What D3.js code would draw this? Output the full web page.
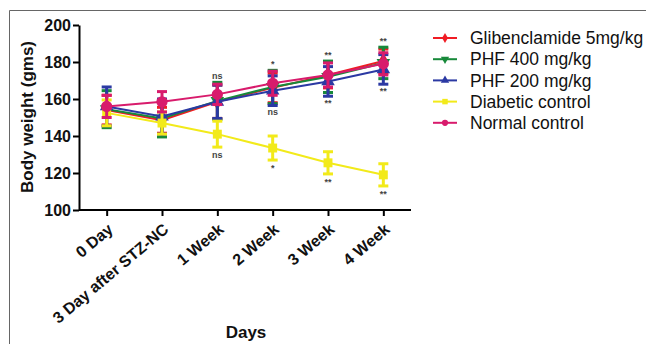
<!DOCTYPE html>
<html>
<head>
<meta charset="utf-8">
<script src="https://cdn.jsdelivr.net/npm/d3@7/dist/d3.min.js"></script>
<style>
  body { margin: 0; background: #fff; }
  text { font-family: "Liberation Sans", Arial, sans-serif; }
</style>
</head>
<body>
<div id="chart"></div>
<script>
// data
const days = ['0 Day', '3 Day after STZ-NC', '1 Week', '2 Week', '3 Week', '4 Week']
const seriesNames = ['Glibenclamide 5mg/kg', 'PHF 400 mg/kg', 'PHF 200 mg/kg', 'Diabetic control', 'Normal control']
const glibMean = [154, 148.5, 158.5, 166, 173, 180.5]
const glibErr = [8, 7, 9, 8, 7, 6.5]
const phf400Mean = [154.5, 149.5, 159, 166.5, 172, 179.5]
const phf400Err = [10, 10, 10, 9, 8.5, 8.5]
const phf200Mean = [156, 150.5, 158.5, 164.5, 169.5, 176]
const phf200Err = [10.5, 9.5, 9, 8, 8, 8]
const diabMean = [152.5, 147, 141, 133.5, 125.5, 119]
const diabErr = [7, 6, 7, 6.5, 6, 6]
const normalMean = [156, 158.5, 162.5, 168.5, 173, 179]
const normalErr = [6, 5.5, 5.5, 6.5, 6.5, 6]
const sigAbove = ['', '', 'ns', '*', '**', '**']
const sigBelow = ['', '', '', 'ns', '**', '**']
const sigDiab = ['', '', 'ns', '*', '**', '**']
const yTicks = [100, 120, 140, 160, 180, 200]

const colors = ['#f01c24', '#17893a', '#2b39a3', '#f2ea1a', '#d81b6c']
const shapes = [d3.symbolDiamond, d3.symbolTriangle, d3.symbolTriangle, d3.symbolSquare, d3.symbolCircle]
const rotations = [0, 180, 0, 0, 0]

const series = [
    { mean: glibMean, err: glibErr },
    { mean: phf400Mean, err: phf400Err },
    { mean: phf200Mean, err: phf200Err },
    { mean: diabMean, err: diabErr },
    { mean: normalMean, err: normalErr },
]

const width = 646, height = 344
const svg = d3.select('#chart').append('svg').attr('width', width).attr('height', height)

// frame
svg.append('path')
    .attr('d', 'M9.5,' + height + 'V10.5H' + width)
    .attr('fill', 'none')
    .attr('stroke', '#666')
    .attr('stroke-width', 1)

const x = d3.scalePoint().domain(days).range([79, 411]).padding(0.5)
const y = d3.scaleLinear().domain([100, 200]).range([210, 25])

// y axis
const yAxis = svg.append('g')
    .attr('transform', 'translate(79,0)')
    .call(d3.axisLeft(y).tickValues(yTicks).tickSize(6).tickSizeOuter(0))
yAxis.selectAll('path, line').attr('stroke', '#000').attr('stroke-width', 2)
yAxis.selectAll('text')
    .attr('font-size', '16px').attr('font-weight', 'bold').attr('fill', '#111')
    .attr('x', -8).attr('dy', '0.36em')

// x axis
const xAxis = svg.append('g')
    .attr('transform', 'translate(0,210)')
    .call(d3.axisBottom(x).tickSize(6).tickSizeOuter(0))
xAxis.select('.domain').attr('d', 'M79,0H411')
xAxis.selectAll('path, line').attr('stroke', '#000').attr('stroke-width', 2)
xAxis.selectAll('text')
    .attr('font-size', '16px').attr('font-weight', 'bold').attr('fill', '#111')
    .attr('y', 0).attr('dy', 0)
    .attr('text-anchor', 'end')
    .attr('transform', 'translate(7,21) rotate(-40)')

// axis titles
svg.append('text')
    .attr('transform', 'translate(33,117) rotate(-90)')
    .attr('text-anchor', 'middle')
    .attr('font-size', '17px').attr('font-weight', 'bold').attr('fill', '#111')
    .text('Body weight (gms)')
svg.append('text')
    .attr('x', 246).attr('y', 338)
    .attr('text-anchor', 'middle')
    .attr('font-size', '17px').attr('font-weight', 'bold').attr('fill', '#111')
    .text('Days')

const line = d3.line().x((d, i) => x(days[i])).y(d => y(d))

series.forEach(function (s, k) {
    const g = svg.append('g')
    g.append('path')
        .datum(s.mean)
        .attr('d', line)
        .attr('fill', 'none')
        .attr('stroke', colors[k])
        .attr('stroke-width', 2)
    // error bars
    const eb = g.selectAll('.eb').data(s.mean).enter().append('g')
    eb.append('line')
        .attr('x1', (d, i) => x(days[i])).attr('x2', (d, i) => x(days[i]))
        .attr('y1', (d, i) => y(d - s.err[i])).attr('y2', (d, i) => y(d + s.err[i]))
        .attr('stroke', colors[k]).attr('stroke-width', 3)
    ;[-1, 1].forEach(function (sign) {
        eb.append('line')
            .attr('x1', (d, i) => x(days[i]) - 5).attr('x2', (d, i) => x(days[i]) + 5)
            .attr('y1', (d, i) => y(d + sign * s.err[i])).attr('y2', (d, i) => y(d + sign * s.err[i]))
            .attr('stroke', colors[k]).attr('stroke-width', 3)
    })
    g.selectAll('.pt').data(s.mean).enter().append('path')
        .attr('d', d3.symbol().type(shapes[k]).size(k === 4 ? 100 : 80))
        .attr('transform', (d, i) => 'translate(' + x(days[i]) + ',' + y(d) + ') rotate(' + rotations[k] + ')')
        .attr('fill', colors[k])
})

// significance marks
function sigText(labels, valueFn, dy) {
    svg.append('g').selectAll('text').data(labels).enter().append('text')
        .attr('x', (d, i) => x(days[i]))
        .attr('y', (d, i) => y(valueFn(i)) + dy)
        .attr('text-anchor', 'middle')
        .attr('font-size', '9px').attr('font-weight', 'bold').attr('fill', '#444')
        .text(d => d)
}
sigText(sigAbove, i => Math.max(phf400Mean[i] + phf400Err[i], glibMean[i] + glibErr[i]), -3)
sigText(sigBelow, i => phf200Mean[i] - phf200Err[i], 10)
sigText(sigDiab, i => diabMean[i] - diabErr[i], 11)

// legend
const legend = svg.append('g')
seriesNames.forEach(function (name, k) {
    const ly = 38 + k * 21.2
    legend.append('line')
        .attr('x1', 433).attr('x2', 457).attr('y1', ly).attr('y2', ly)
        .attr('stroke', colors[k]).attr('stroke-width', 2)
    legend.append('path')
        .attr('d', d3.symbol().type(shapes[k]).size(30))
        .attr('transform', 'translate(445,' + ly + ') rotate(' + rotations[k] + ')')
        .attr('fill', colors[k])
    legend.append('text')
        .attr('x', 470).attr('y', ly).attr('dy', '0.35em')
        .attr('font-size', '17.5px').attr('fill', '#111')
        .text(name)
})
</script>
</body>
</html>
